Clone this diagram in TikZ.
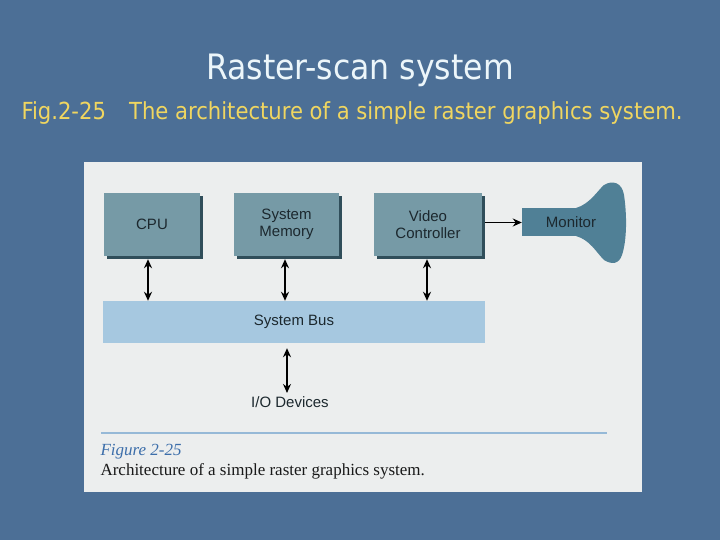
\documentclass[tikz,border=0pt]{standalone}
\usepackage{fontspec}
\setmainfont{Liberation Sans}
\newfontfamily\slidefont{DejaVu Sans Condensed}
\newfontfamily\capfont{Liberation Serif}
\usetikzlibrary{arrows.meta,shadows}
\definecolor{slidebg}{RGB}{76,111,150}
\definecolor{photobg}{RGB}{236,238,238}
\definecolor{boxfill}{RGB}{118,154,166}
\definecolor{boxshadow}{RGB}{48,78,90}
\definecolor{busfill}{RGB}{166,200,224}
\definecolor{monfill}{RGB}{80,128,150}
\definecolor{titlecol}{RGB}{236,246,250}
\definecolor{subcol}{RGB}{240,214,96}
\definecolor{figblue}{RGB}{60,110,170}
\definecolor{rulecol}{RGB}{150,185,215}
\definecolor{inktext}{RGB}{28,40,46}
\tikzset{
  unitbox/.style={draw=none, fill=boxfill, minimum width=#1, minimum height=63pt,
    inner sep=0pt, align=center, font=\fontsize{15}{17}\selectfont, text=inktext,
    drop shadow={shadow xshift=3pt, shadow yshift=-3pt, fill=boxshadow, opacity=1}},
  link/.style={line width=1.6pt, {Stealth[length=9pt,width=8pt]}-{Stealth[length=9pt,width=8pt]}},
  onelink/.style={line width=1.6pt, -{Stealth[length=9pt,width=8pt]}}
}
\begin{document}
\begin{tikzpicture}[x=1pt,y=-1pt]
\useasboundingbox (0,0) rectangle (720,540);
\fill[slidebg] (0,0) rectangle (720,540);
% titles
\node[font=\slidefont\fontsize{35}{38}\selectfont, text=titlecol] (title) at (360,70) {Raster-scan system};
\node[font=\slidefont\fontsize{23.5}{26}\selectfont, text=subcol, anchor=west] (sub) at (18,113) {Fig.2-25\hspace{0.7em} The architecture of a simple raster graphics system.};
% photo
\fill[photobg] (84,162) rectangle (642,492);
% boxes (top edge 193, height 63)
\node[unitbox=96pt] (cpu) at (152,224.5) {CPU};
\node[unitbox=105pt] (mem) at (286.5,224.5) {System\\Memory};
\node[unitbox=108pt] (vid) at (428,224.5) {Video\\Controller};
% monitor
\fill[monfill] (576,208) .. controls (590,204) and (598,190) .. (604,185)
  .. controls (612,180) and (622,182) .. (624,195)
  .. controls (627,215) and (627,240) .. (622,255)
  .. controls (619,264) and (612,265) .. (604,260)
  .. controls (596,252) and (590,240) .. (576,236) -- cycle;
\node[fill=monfill, minimum width=78pt, minimum height=28pt, inner sep=0pt,
  font=\fontsize{15}{17}\selectfont, text=inktext] (mon) at (561,222) {\hspace{20pt}Monitor};
% bus
\node[fill=busfill, minimum width=382pt, minimum height=42pt, inner sep=0pt,
  font=\fontsize{15}{17}\selectfont, text=inktext] (bus) at (294,322) {System Bus};
\node[font=\fontsize{15}{17}\selectfont, text=inktext] (io) at (290,402) {I/O Devices};
% connectors
\draw[link] (cpu.south -| 148,0) ++(0,3) -- (bus.north -| 148,0);
\draw[link] (mem.south -| 285,0) ++(0,3) -- (bus.north -| 285,0);
\draw[link] (vid.south -| 427,0) ++(0,3) -- (bus.north -| 427,0);
\draw[link] (bus.south -| 287,0) ++(0,5) -- (io.north -| 287,0);
\draw[onelink] (vid.east) ++(3,-2) coordinate (vo) -- (vo -| mon.west);
% caption
\draw[rulecol, line width=1.2pt] (101,433) -- (607,433);
\node[anchor=west, font=\capfont\itshape\fontsize{17}{19}\selectfont, text=figblue] (fig) at (97,452) {Figure 2-25};
\node[anchor=west, font=\capfont\fontsize{17}{19}\selectfont, text=black!90] (cap) at (97,471) {Architecture of a simple raster graphics system.};
\end{tikzpicture}
\end{document}
